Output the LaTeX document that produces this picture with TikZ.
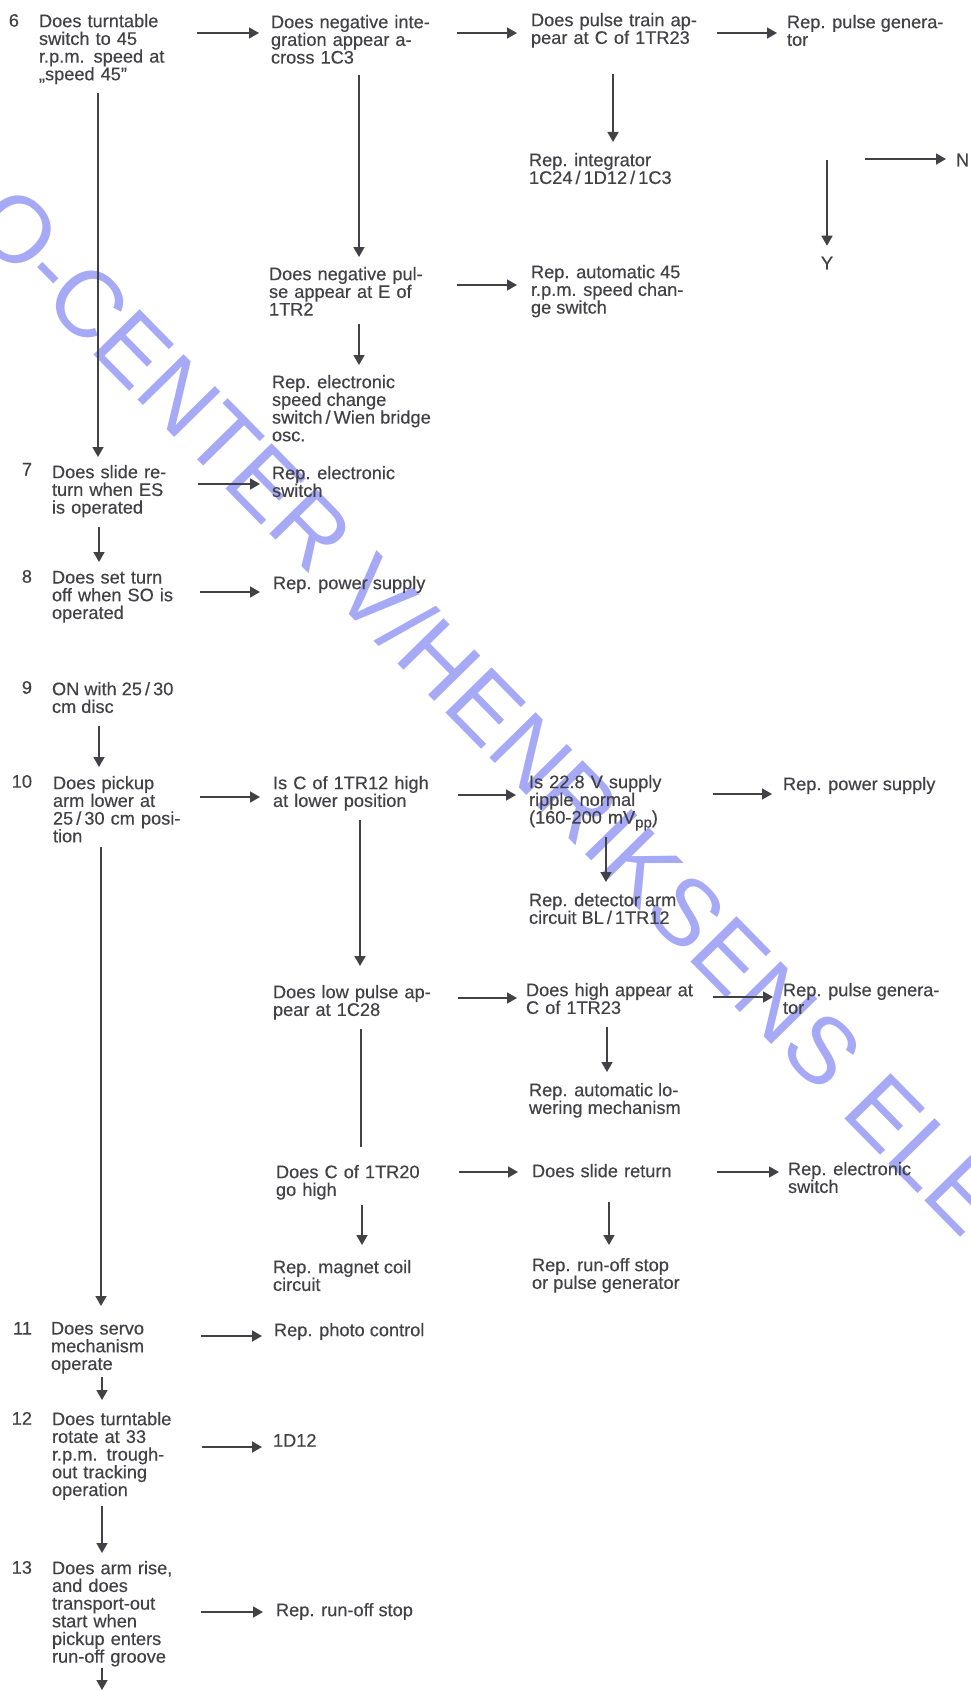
\documentclass[tikz,border=0pt]{standalone}
\usepackage{fontspec}
\setmainfont{Liberation Sans}
\newfontfamily\inkfont[FakeBold=0.35]{Liberation Sans}
\usetikzlibrary{arrows.meta,calc}
\definecolor{ink}{RGB}{66,66,70}
\definecolor{wm}{RGB}{166,170,246}
\tikzset{
  x=1pt, y=-1pt,
  txt/.style={anchor=north west, inner sep=0pt, outer sep=0pt, align=left, text=ink, font=\inkfont\fontsize{18.2}{17.7}\selectfont},
  num/.style={anchor=north east, inner sep=0pt, outer sep=0pt, text=ink, font=\inkfont\fontsize{18.2}{17.7}\selectfont},
  arr/.style={draw=ink, line width=1.7pt, -{Triangle[length=10pt,width=11pt]}},
  plainline/.style={draw=ink, line width=1.7pt},
}
% horizontal arrow: source, target, y offset below source top, gap before target
\newcommand\harr[4]{\coordinate (hs) at ($(#1.north east)+(0,#3)$);\draw[arr, shorten >=#4pt] (hs) -- (hs -| #2.west);}
% vertical arrow: source, target, x offset, y offset from source top-left, gap above target
\newcommand\varr[5]{\coordinate (vs) at ($(#1.north west)+(#3,#4)$);\draw[arr, shorten >=#5pt] (vs) -- (vs |- #2.north);}
\begin{document}
\begin{tikzpicture}
\useasboundingbox (0,0) rectangle (971,1691);
\fill[white] (0,0) rectangle (971,1691);
\begin{scope}
\clip (0,0) rectangle (971,1691);
\node[rotate=-45.5, text=wm, inner sep=0pt, font=\fontsize{94}{94}\selectfont] (wmark) at (490,710) {O-CENTER V/HENRIKSENS ELE};
\end{scope}

% step numbers
\node[num] (k6) at (19,14) {6};
\node[num] (k7) at (32,463) {7};
\node[num] (k8) at (32,570) {8};
\node[num] (k9) at (32,681) {9};
\node[num] (k10) at (32,775) {10};
\node[num] (k11) at (32,1322) {11};
\node[num] (k12) at (32,1412) {12};
\node[num] (k13) at (32,1561) {13};

% text blocks
\node[txt,text width=158pt] (n6) at (39,14) {Does turntable\\switch to 45\\r.p.m. speed at\\„speed 45”};
\node[txt,text width=186pt] (a1) at (271,15) {Does negative inte-\\gration appear a-\\cross 1C3};
\node[txt,text width=186pt] (a2) at (531,13) {Does pulse train ap-\\pear at C of 1TR23};
\node[txt] (a3) at (787,15) {Rep. pulse genera-\\tor};
\node[txt] (a2d) at (529,153) {Rep. integrator\\1C24\,/\,1D12\,/\,1C3};
\node[txt,text width=188pt] (b1) at (269,267) {Does negative pul-\\se appear at E of\\1TR2};
\node[txt] (b2) at (531,265) {Rep. automatic 45\\r.p.m. speed chan-\\ge switch};
\node[txt] (b1d) at (272,375) {Rep. electronic\\speed change\\switch\,/\,Wien bridge\\osc.};
\node[txt,text width=146pt] (n7) at (52,465) {Does slide re-\\turn when ES\\is operated};
\node[txt] (c1) at (272,466) {Rep. electronic\\switch};
\node[txt,text width=148pt] (n8) at (52,571) {Does set turn\\off when SO is\\operated};
\node[txt] (d1) at (273,576) {Rep. power supply};
\node[txt] (n9) at (52,682) {ON with 25\,/\,30\\cm disc};
\node[txt,text width=147pt] (n10) at (53,776) {Does pickup\\arm lower at\\25\,/\,30 cm posi-\\tion};
\node[txt,text width=185pt] (e1) at (273,776) {Is C of 1TR12 high\\at lower position};
\node[txt,text width=184pt] (e2) at (529,775) {Is 22.8 V supply\\ripple normal\\(160-200 mV\raisebox{-4pt}{\fontsize{15}{15}\selectfont pp})};
\node[txt] (e3) at (783,777) {Rep. power supply};
\node[txt] (e2d) at (529,893) {Rep. detector arm\\circuit BL\,/\,1TR12};
\node[txt,text width=185pt] (f1) at (273,985) {Does low pulse ap-\\pear at 1C28};
\node[txt,text width=187pt] (f2) at (526,983) {Does high appear at\\C of 1TR23};
\node[txt] (f3) at (783,983) {Rep. pulse genera-\\tor};
\node[txt] (f2d) at (529,1083) {Rep. automatic lo-\\wering mechanism};
\node[txt,text width=183pt] (g1) at (276,1165) {Does C of 1TR20\\go high};
\node[txt,text width=185pt] (g2) at (532,1164) {Does slide return};
\node[txt] (g3) at (788,1162) {Rep. electronic\\switch};
\node[txt] (g1d) at (273,1260) {Rep. magnet coil\\circuit};
\node[txt] (g2d) at (532,1258) {Rep. run-off stop\\or pulse generator};
\node[txt,text width=150pt] (n11) at (51,1322) {Does servo\\mechanism\\operate};
\node[txt] (h1) at (274,1323) {Rep. photo control};
\node[txt,text width=150pt] (n12) at (52,1412) {Does turntable\\rotate at 33\\r.p.m. trough-\\out tracking\\operation};
\node[txt] (i1) at (273,1434) {1D12};
\node[txt,text width=149pt] (n13) at (52,1561) {Does arm rise,\\and does\\transport-out\\start when\\pickup enters\\run-off groove};
\node[txt] (j1) at (276,1603) {Rep. run-off stop};

% legend
\coordinate (ystart) at (827,160);
\node[txt,anchor=center] (Y) at (827,263) {Y};
\draw[arr, shorten >=11pt] (ystart) -- (Y.north);
\coordinate (nstart) at (865,159);
\node[txt,anchor=west] (N) at (956,160) {N};
\draw[arr, shorten >=10pt] (nstart) -- (nstart -| N.west);

% horizontal connectors
\harr{n6}{a1}{19}{12}
\harr{a1}{a2}{18}{14}
\harr{a2}{a3}{20}{10}
\harr{b1}{b2}{18}{14}
\harr{n7}{c1}{19}{12}
\harr{n8}{d1}{21}{13}
\harr{n10}{e1}{21}{13}
\harr{e1}{e2}{19}{13}
\harr{e2}{e3}{19}{11}
\harr{f1}{f2}{13}{9}
\harr{f2}{f3}{14}{10}
\harr{g1}{g2}{7}{14}
\harr{g2}{g3}{8}{9}
\harr{n11}{h1}{14}{12}
\harr{n12}{i1}{35}{11}
\harr{n13}{j1}{51}{13}

% vertical connectors
\varr{n6}{n7}{59}{79}{8}
\varr{a1}{b1}{88}{60}{10}
\varr{a2}{a2d}{82}{61}{11}
\varr{b1}{b1d}{90}{57}{10}
\varr{n7}{n8}{47}{62}{9}
\varr{n9}{n10}{47}{44}{9}
\varr{e2}{e2d}{77}{62}{11}
\varr{e1}{f1}{87}{44}{19}
\varr{f2}{f2d}{81}{44}{11}
\coordinate (fs) at ($(f1.north west)+(88,44)$);
\draw[plainline, shorten >=18pt] (fs) -- (fs |- g1.north);
\varr{g1}{g1d}{86}{40}{15}
\varr{g2}{g2d}{77}{38}{13}
\varr{n10}{n11}{48}{71}{16}
\varr{n11}{n12}{51}{55}{12}
\varr{n12}{n13}{50}{94}{8}
\coordinate (out13) at (102,1690);
\draw[arr] ($(n13.north west)+(50,107)$) -- (out13);
\end{tikzpicture}
\end{document}
